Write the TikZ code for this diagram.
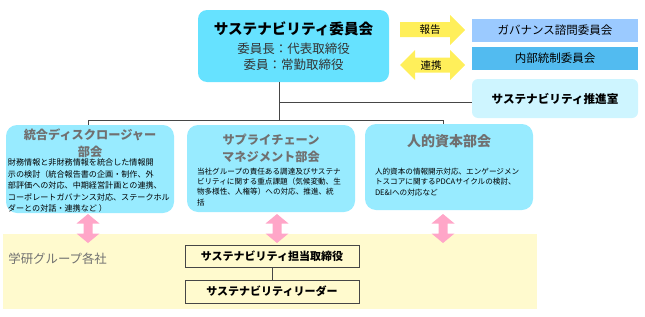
\documentclass[tikz,border=0pt]{standalone}
\usepackage{fontspec}
\setmainfont{Noto Sans CJK JP}
\usetikzlibrary{positioning}
\definecolor{iinkaicyan}{RGB}{102,226,255}
\definecolor{bukaicyan}{RGB}{152,235,255}
\definecolor{suishincyan}{RGB}{206,245,255}
\definecolor{govblue}{RGB}{155,202,255}
\definecolor{naibublue}{RGB}{82,187,240}
\definecolor{arrowyellow}{RGB}{255,239,90}
\definecolor{arrowpink}{RGB}{255,166,200}
\definecolor{groupyellow}{RGB}{255,250,206}
\definecolor{titlegray}{RGB}{112,112,112}
\definecolor{linegray}{RGB}{70,70,70}

\begin{document}
\begin{tikzpicture}[x=1pt,y=-1pt,line width=.8pt,
  iinkaibox/.style={fill=iinkaicyan,rounded corners=9pt,align=center,inner sep=0pt},
  sidebox/.style={minimum width=166pt,inner sep=0pt,font=\fontsize{11.5}{13}\selectfont},
  bukai/.style={fill=bukaicyan,rounded corners=11pt,minimum width=168pt,inner sep=0pt},
  bukaititle/.style={inner sep=0pt,align=center,text=titlegray,font=\fontsize{12.2}{17}\selectfont\bfseries},
  bukaibody/.style={inner sep=0pt,align=left,anchor=north west},
  groupbox/.style={draw=linegray,fill=groupyellow,line width=.7pt,minimum width=174pt,inner sep=0pt,font=\fontsize{11}{13}\selectfont\bfseries},
  wire/.style={draw=linegray,line width=.8pt}]
\useasboundingbox (0,0) rectangle (645,316);

% committee and side boxes
\node[iinkaibox,minimum width=191pt,minimum height=72pt,text=black!80,
  font=\fontsize{12.5}{16}\selectfont] (iinkai) at (293.5,46)
  {{\fontsize{14.6}{18}\selectfont\bfseries\color{black}サステナビリティ委員会}\\[3.5pt]
   委員長：代表取締役\\
   委員：常勤取締役};
\node[sidebox,fill=govblue,minimum height=23pt] (gov) at (555,30.5) {ガバナンス諮問委員会};
\node[sidebox,fill=naibublue,minimum height=23pt] (naibu) at (555,58.5) {内部統制委員会};
\node[sidebox,fill=suishincyan,rounded corners=6pt,minimum height=39pt,
  font=\fontsize{11.6}{13}\selectfont\bfseries] (suishin) at (555,98.5) {サステナビリティ推進室};

% yellow arrows
\fill[arrowyellow] (400,22)--(450,22)--(450,15)--(465,30)--(450,45)--(450,37)--(400,37)--cycle;
\node[font=\fontsize{10.5}{12}\selectfont] (hokoku) at (430,30) {報告};
\fill[arrowyellow] (400,65)--(415,50)--(415,57.5)--(450,57.5)--(450,50)--(465,65)
  --(450,80)--(450,72.5)--(415,72.5)--(415,80)--cycle;
\node[font=\fontsize{10.5}{12}\selectfont] (renkei) at (431,66) {連携};

% subcommittees
\node[bukai,minimum height=88pt] (disc) at (90,169) {};
\node[bukaititle,below=4pt of disc.north] (disctitle) {統合ディスクロージャー\\部会};
\node[bukaibody,font=\fontsize{8.1}{11.4}\selectfont,below right=34pt and 2pt of disc.north west] (discbody)
  {財務情報と非財務情報を統合した情報開\\示の検討（統合報告書の企画・制作、外\\部評価への対応、中期経営計画との連携、\\コーポレートガバナンス対応、ステークホル\\ダーとの対話・連携など ）};

\node[bukai,minimum height=87pt] (supply) at (271,168.5) {};
\node[bukaititle,below=8.5pt of supply.north] (supplytitle) {サプライチェーン\\マネジメント部会};
\node[bukaibody,font=\fontsize{7.6}{10.3}\selectfont,below right=43pt and 10pt of supply.north west] (supplybody)
  {当社グループの責任ある調達及びサステナ\\ビリティに関する重点課題（気候変動、生\\物多様性、人権等）への対応、推進、統\\括};

\node[bukai,minimum height=86pt] (jinteki) at (449,167) {};
\node[bukaititle,font=\fontsize{14}{17}\selectfont\bfseries,below=11pt of jinteki.north] (jintekititle) {人的資本部会};
\node[bukaibody,font=\fontsize{7.6}{10.3}\selectfont,below right=44pt and 10pt of jinteki.north west] (jintekibody)
  {人的資本の情報開示対応、エンゲージメン\\トスコアに関するPDCAサイクルの検討、\\DE\&Iへの対応など};

% wiring
\coordinate (busL) at (88,120);
\coordinate (busR) at (443,120);
\coordinate (branch) at (279,102);
\draw[wire] (iinkai.south -| branch) -- (branch |- busL);
\draw[wire] (branch) -- (branch -| suishin.west);
\draw[wire] (busL) -- (busR);
\draw[wire] (busL) -- (busL |- disc.north);
\draw[wire] (busR) -- (busR |- jinteki.north);

% group companies
\fill[groupyellow] (3,234) rectangle (537,309);
\node[anchor=west,inner sep=0pt,text=titlegray,font=\fontsize{12.4}{14}\selectfont] (gakken) at (8,259) {学研グループ各社};
\node[groupbox,minimum height=22pt] (tanto) at (272,256) {サステナビリティ担当取締役};
\node[groupbox,minimum height=23pt] (leader) at (272,291.5) {サステナビリティリーダー};
\draw[wire,line width=.7pt] (tanto) -- (leader);

% pink arrows
\foreach \x in {88,277,443}{
  \fill[arrowpink] (\x,214)--++(11.5,9.5)--++(-7,0)--++(0,10)--++(7,0)--++(-11.5,9.5)
    --++(-11.5,-9.5)--++(7,0)--++(0,-10)--++(-7,0)--cycle;
}
\end{tikzpicture}
\end{document}
